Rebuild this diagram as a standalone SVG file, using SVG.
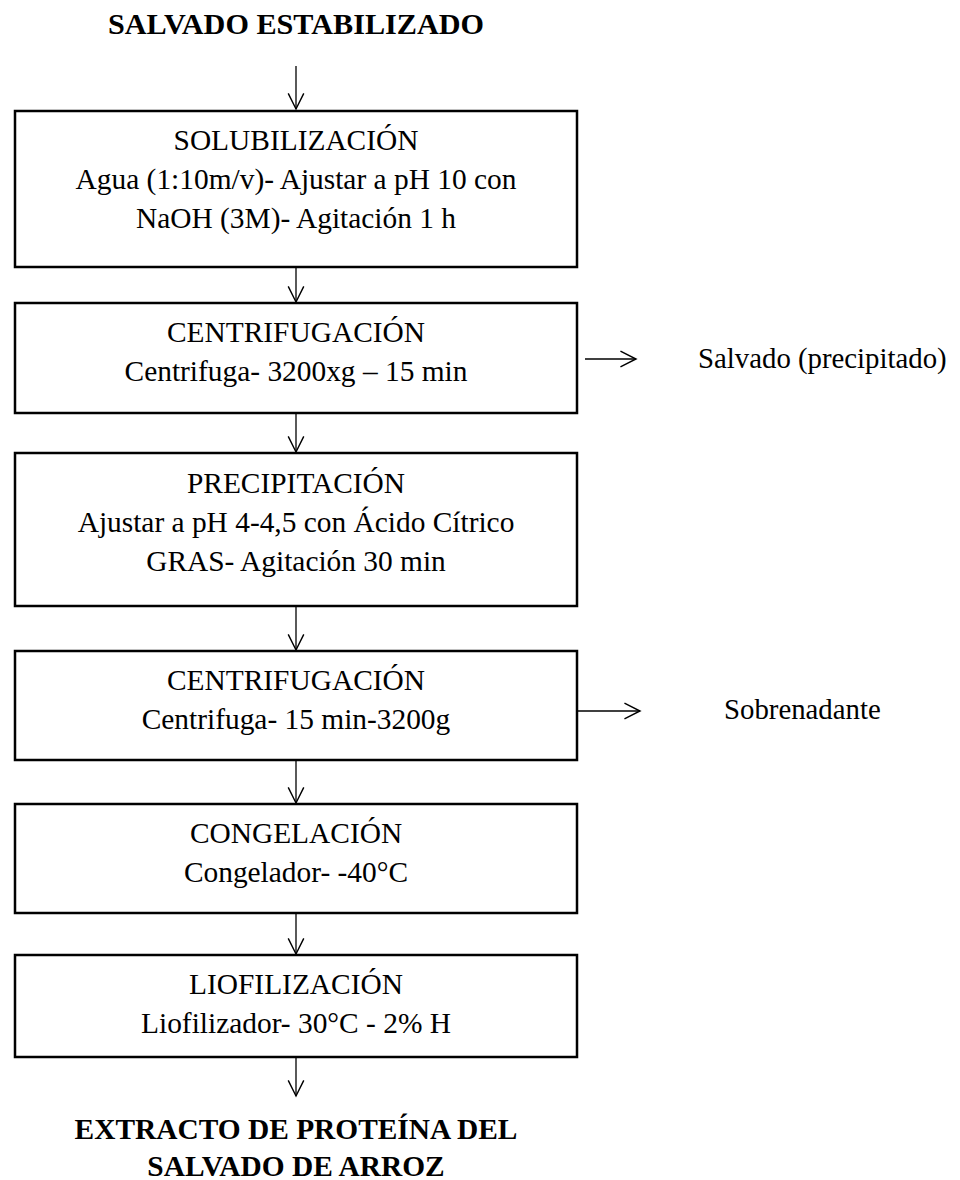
<svg xmlns="http://www.w3.org/2000/svg" width="960" height="1180" viewBox="0 0 960 1180">
  <style>
    .box { fill: #ffffff; stroke: #000000; stroke-width: 2.5; }
    .t { font-family: "Liberation Serif", "Times New Roman", serif; font-size: 29.4px; fill: #000000; text-anchor: middle; }
    .b { font-weight: bold; }
    .side { text-anchor: start; font-size: 28.8px; }
    .conn { stroke: #000000; stroke-width: 1.3; fill: none; marker-end: url(#open); }
  </style>
  <defs>
    <marker id="open" markerUnits="userSpaceOnUse" markerWidth="20" markerHeight="20" viewBox="-16 -9 18 18" refX="0" refY="0" orient="auto">
      <path d="M -14 -7 L 0 0 L -14 7" fill="none" stroke="#000000" stroke-width="1.3"/>
    </marker>
  </defs>
  <rect width="960" height="1180" fill="#ffffff"/>

  <!-- connectors -->
  <g id="connectors">
    <line class="conn" x1="296" y1="66" x2="296" y2="109"/>
    <line class="conn" x1="296" y1="267" x2="296" y2="302"/>
    <line class="conn" x1="296" y1="413" x2="296" y2="452"/>
    <line class="conn" x1="296" y1="606" x2="296" y2="650"/>
    <line class="conn" x1="296" y1="760" x2="296" y2="803"/>
    <line class="conn" x1="296" y1="913" x2="296" y2="954"/>
    <line class="conn" x1="296" y1="1057" x2="296" y2="1096"/>
    <line class="conn" x1="585" y1="359" x2="636" y2="359"/>
    <line class="conn" x1="577" y1="711" x2="640" y2="711"/>
  </g>

  <g id="inicio">
    <text class="t b" style="font-size:30.2px" x="296" y="34">SALVADO ESTABILIZADO</text>
  </g>

  <g id="solubilizacion">
    <rect class="box" x="15" y="111" width="562" height="156"/>
    <text class="t" x="296" y="150">SOLUBILIZACIÓN</text>
    <text class="t" x="296" y="189">Agua (1:10m/v)- Ajustar a pH 10 con</text>
    <text class="t" x="296" y="228">NaOH (3M)- Agitación 1 h</text>
  </g>

  <g id="centrifugacion1">
    <rect class="box" x="15" y="303" width="562" height="110"/>
    <text class="t" x="296" y="342">CENTRIFUGACIÓN</text>
    <text class="t" x="296" y="381">Centrifuga- 3200xg – 15 min</text>
  </g>

  <g id="salvado">
    <text class="t side" x="698" y="368">Salvado (precipitado)</text>
  </g>

  <g id="precipitacion">
    <rect class="box" x="15" y="453" width="562" height="153"/>
    <text class="t" x="296" y="493">PRECIPITACIÓN</text>
    <text class="t" x="296" y="532">Ajustar a pH 4-4,5 con Ácido Cítrico</text>
    <text class="t" x="296" y="571">GRAS- Agitación 30 min</text>
  </g>

  <g id="centrifugacion2">
    <rect class="box" x="15" y="651" width="562" height="109"/>
    <text class="t" x="296" y="690">CENTRIFUGACIÓN</text>
    <text class="t" x="296" y="729">Centrifuga- 15 min-3200g</text>
  </g>

  <g id="sobrenadante">
    <text class="t side" x="724" y="719">Sobrenadante</text>
  </g>

  <g id="congelacion">
    <rect class="box" x="15" y="804" width="562" height="109"/>
    <text class="t" x="296" y="843">CONGELACIÓN</text>
    <text class="t" x="296" y="882">Congelador- -40°C</text>
  </g>

  <g id="liofilizacion">
    <rect class="box" x="15" y="955" width="562" height="102"/>
    <text class="t" x="296" y="994">LIOFILIZACIÓN</text>
    <text class="t" x="296" y="1033">Liofilizador- 30°C - 2% H</text>
  </g>

  <g id="producto">
    <text class="t b" x="296" y="1139">EXTRACTO DE PROTEÍNA DEL</text>
    <text class="t b" x="296" y="1176">SALVADO DE ARROZ</text>
  </g>
</svg>
